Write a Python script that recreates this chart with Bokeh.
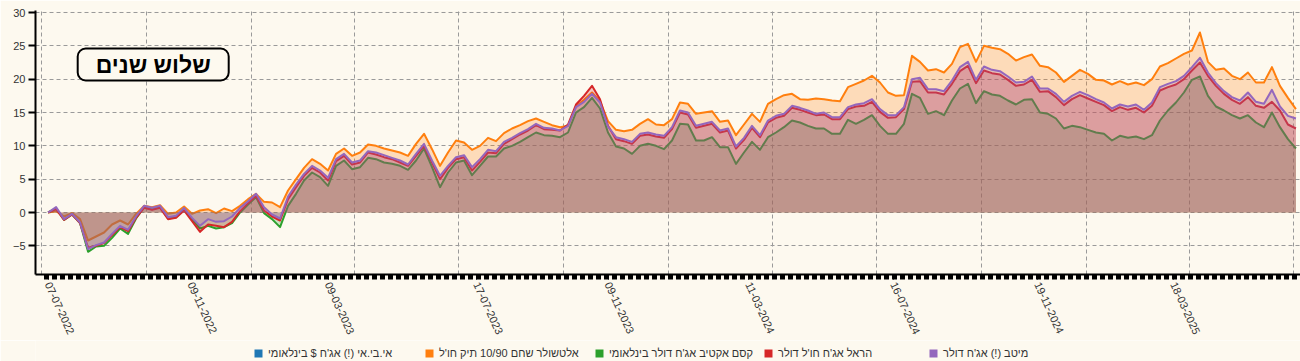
import pandas as pd
from bokeh.plotting import figure
from bokeh.layouts import column
from bokeh.models import (FixedTicker, DatetimeTickFormatter, Legend, LegendItem, Label)
from bokeh.embed import file_html
from bokeh.resources import INLINE

# ---------------- data ----------------
series_names = [
    "אי.בי.אי (!) אג'ח $ בינלאומי",
    "אלטשולר שחם 10/90 תיק חו'ל",
    "קסם אקטיב אג'ח דולר בינלאומי",
    "הראל אג'ח חו'ל דולר",
    "מיטב (!) אג'ח דולר",
]
series_colors = ["#1f77b4", "#ff7f0e", "#2ca02c", "#d62728", "#9467bd"]

dates = pd.date_range("2022-07-07", periods=157, freq="7D")

orange_vals = [
    0, 0.2, -0.6, -0.1, -1.0, -4.2, -3.6, -3.0, -1.8, -1.2,
    -1.8, -0.2, 1.0, 0.8, 1.1, -0.2, 0.0, 0.9, -0.2, 0.3,
    0.5, -0.1, 0.6, 0.2, 1.0, 2.0, 2.8, 1.6, 1.5, 0.8,
    3.3, 5.0, 6.7, 8.0, 7.3, 6.3, 8.8, 9.6, 8.5, 9.0,
    10.2, 10.0, 9.6, 9.3, 9.0, 8.5, 10.3, 11.8, 9.5, 7.0,
    9.0, 10.8, 10.5, 9.4, 10.0, 11.2, 10.7, 11.9, 12.6, 13.1,
    13.7, 14.1, 13.6, 13.1, 12.8, 13.0, 15.9, 16.9, 18.0, 16.7,
    13.7, 12.4, 12.2, 12.4, 13.3, 14.0, 13.2, 13.1, 14.0, 16.5,
    16.3, 14.8, 15.0, 15.2, 13.6, 13.8, 11.6, 13.2, 14.8, 13.6,
    16.3, 17.0, 17.6, 17.8, 17.0, 16.9, 17.1, 17.0, 16.8, 16.7,
    18.8, 19.3, 19.8, 20.5, 19.5, 18.0, 17.5, 17.6, 23.5, 22.6,
    21.3, 21.5, 21.0, 22.3, 24.8, 25.3, 22.6, 25.0, 24.7, 24.5,
    23.8, 22.8, 23.3, 23.7, 22.0, 21.8, 21.0, 19.6, 20.5, 21.4,
    20.8, 19.9, 19.8, 19.2, 19.7, 19.2, 19.5, 19.1, 20.0, 21.9,
    22.4, 23.1, 23.8, 24.3, 27.0, 22.6, 21.4, 21.6, 20.5, 20.0,
    21.0, 19.5, 19.5, 21.8, 19.0, 17.2, 15.5,
]

green_vals = [
    0, 0.6, -1.1, -0.3, -1.6, -5.9, -5.1, -5.0, -3.8, -2.4,
    -3.2, -0.9, 0.8, 0.5, 0.8, -0.9, -0.7, 0.4, -1.0, -2.4,
    -2.0, -2.4, -2.2, -1.6, 0.0, 1.2, 2.3, -0.1, -1.0, -2.2,
    1.0, 2.8, 4.8, 6.0, 5.3, 4.0, 7.0, 7.8, 6.5, 6.8,
    8.2, 8.0, 7.5, 7.3, 7.0, 6.4, 7.8, 9.6, 6.8, 3.8,
    6.0, 7.5, 7.8, 5.6, 7.0, 8.4, 8.4, 9.6, 10.0, 10.6,
    11.3, 12.0, 11.6, 11.5, 11.3, 12.0, 15.0, 15.8, 17.2, 15.6,
    12.0, 9.9, 9.6, 8.8, 10.0, 10.3, 10.0, 9.5, 10.8, 13.3,
    13.2, 10.8, 10.8, 11.3, 9.8, 9.8, 7.3, 9.0, 10.6, 9.4,
    11.3, 12.0, 12.8, 13.8, 13.5, 13.0, 12.6, 12.6, 11.8, 11.8,
    13.9, 13.3, 13.9, 14.6, 13.0, 11.8, 11.8, 13.3, 17.8, 17.2,
    14.8, 15.2, 14.6, 16.8, 18.6, 19.3, 16.4, 18.2, 17.7, 17.5,
    16.8, 16.2, 16.9, 17.0, 15.0, 14.8, 14.1, 12.6, 13.0, 12.8,
    12.4, 12.0, 11.8, 10.8, 11.5, 11.2, 11.4, 11.0, 11.6, 13.8,
    15.3, 16.5, 18.0, 19.9, 20.4, 17.5, 15.9, 15.3, 14.6, 14.1,
    14.6, 13.5, 12.8, 15.0, 12.8, 11.0, 9.6,
]

red_vals = [
    0, 0.5, -1.1, -0.3, -1.6, -5.3, -5.0, -4.6, -3.4, -2.2,
    -2.8, -0.8, 0.7, 0.4, 0.7, -1.0, -0.8, 0.3, -1.3, -2.9,
    -1.8, -2.0, -2.2, -1.4, 0.2, 1.4, 2.5, 0.3, -0.6, -1.2,
    2.0, 3.8, 5.5, 6.7, 6.0, 4.8, 7.7, 8.5, 7.2, 7.5,
    9.0, 8.7, 8.3, 8.0, 7.5, 7.0, 8.5, 10.0, 7.5, 5.0,
    6.7, 8.0, 8.3, 6.3, 7.6, 9.0, 8.9, 10.3, 11.0, 11.7,
    12.3, 13.1, 12.5, 12.4, 12.3, 13.2, 16.2, 17.5, 19.0, 17.0,
    13.0, 11.0, 10.7, 10.3, 11.5, 11.7, 11.4, 11.2, 12.5, 15.0,
    14.7, 12.7, 13.0, 13.3, 12.0, 12.3, 9.6, 10.9, 12.7, 11.3,
    13.5, 14.2, 14.5, 15.7, 15.4, 15.0, 14.6, 14.7, 14.0, 14.0,
    15.5, 15.9, 16.0, 16.6, 15.1, 14.2, 14.3, 15.5, 19.6, 19.7,
    18.0, 18.0, 17.7, 19.3, 21.2, 22.0, 19.4, 21.3, 20.9, 20.7,
    19.9, 19.0, 19.2, 19.9, 18.1, 18.2, 17.3, 16.1, 17.0, 17.6,
    17.1, 16.6, 16.1, 15.2, 15.8, 15.4, 15.7, 15.0, 16.0, 18.3,
    18.8, 19.2, 20.0, 21.3, 22.5, 20.5, 19.0, 17.8, 16.9, 16.3,
    17.3, 16.0, 15.7, 16.6, 15.3, 13.2, 12.6,
]

purple_vals = [
    0, 0.8, -1.0, -0.2, -1.5, -5.5, -4.9, -4.5, -3.2, -2.0,
    -2.6, -0.6, 1.0, 0.7, 1.0, -0.7, -0.5, 0.7, -0.8, -2.0,
    -1.0, -1.4, -1.3, -0.6, 0.7, 1.7, 2.8, 0.8, -0.3, -0.9,
    2.4, 4.2, 5.8, 7.0, 6.3, 5.2, 8.0, 8.8, 7.5, 7.8,
    9.2, 9.0, 8.6, 8.2, 7.8, 7.2, 8.8, 10.3, 7.8, 5.5,
    7.0, 8.3, 8.6, 6.8, 8.0, 9.4, 9.2, 10.6, 11.2, 11.9,
    12.5, 13.3, 12.7, 12.6, 12.3, 13.0, 15.8, 16.6, 17.8, 16.5,
    12.9, 11.3, 11.0, 10.6, 11.8, 12.0, 11.7, 11.5, 12.8, 15.3,
    15.0, 13.0, 13.3, 13.6, 12.3, 12.6, 9.9, 11.2, 13.0, 11.6,
    13.8, 14.5, 14.8, 16.0, 15.7, 15.3, 14.8, 15.0, 14.3, 14.3,
    15.8, 16.2, 16.4, 17.0, 15.5, 14.6, 14.6, 15.8, 20.0, 20.2,
    18.5, 18.5, 18.2, 19.8, 21.8, 22.6, 19.9, 21.9, 21.4, 21.2,
    20.4, 19.5, 19.6, 20.4, 18.6, 18.6, 17.8, 16.6, 17.5, 18.1,
    17.6, 17.0, 16.5, 15.6, 16.2, 15.9, 16.2, 15.4, 16.5, 18.8,
    19.3, 19.7, 20.5, 21.8, 23.2, 21.0, 19.4, 18.2, 17.3, 16.8,
    18.0, 16.6, 16.3, 18.4, 15.9, 14.5, 14.1,
]

label_dates = ["2022-07-07", "2022-11-09", "2023-03-09", "2023-07-17", "2023-11-09",
               "2024-03-11", "2024-07-16", "2024-11-19", "2025-03-18"]
y_ticks = [-5, 0, 5, 10, 15, 20, 25, 30]
title_text = "שלוש שנים"

# ---------------- figure ----------------
BG = "#fdf9ef"
FONT = "Liberation Sans"
NAN = float("nan")


def ms(d):
    return pd.Timestamp(d).value / 1e6


p = figure(width=1300, height=340, x_axis_type="datetime",
           x_range=(ms("2022-06-26"), ms("2025-07-07")), y_range=(-9.3, 30.3),
           output_backend="svg", toolbar_location=None, title=None,
           background_fill_color=BG, border_fill_color=BG,
           min_border_left=35, min_border_right=0, min_border_top=10, min_border_bottom=66)
p.outline_line_color = None

# grids
quarter_ticks = [ms(d) for d in pd.date_range("2022-07-01", "2025-07-01", freq="QS")]
p.xgrid.ticker = FixedTicker(ticks=quarter_ticks)
p.ygrid.ticker = FixedTicker(ticks=y_ticks)
for g in (p.xgrid, p.ygrid):
    g.grid_line_color = "#9a9a9a"
    g.grid_line_dash = "4 3"
    g.grid_line_width = 1

# x axis
week_ticks = [ms(d) for d in pd.date_range("2022-07-06", "2025-07-03", freq="7D")]
xa = p.xaxis[0]
xa.ticker = FixedTicker(ticks=[ms(d) for d in label_dates], minor_ticks=week_ticks)
fmt = "%d-%m-%Y"
xa.formatter = DatetimeTickFormatter(days=fmt, months=fmt, years=fmt, hours=fmt,
                                     minutes=fmt, seconds=fmt, milliseconds=fmt,
                                     minsec=fmt, hourmin=fmt)
xa.major_label_orientation = -1.14
xa.major_label_text_font = FONT
xa.major_label_text_font_size = "11px"
xa.major_label_text_color = "#333333"
xa.major_label_standoff = 3
xa.axis_line_color = "black"
xa.axis_line_width = 2
xa.major_tick_in = 0
xa.major_tick_out = 5
xa.major_tick_line_width = 1
xa.major_tick_line_color = "black"
xa.minor_tick_in = 0
xa.minor_tick_out = 5
xa.minor_tick_line_width = 5
xa.minor_tick_line_color = "black"

# y axis
ya = p.yaxis[0]
ya.ticker = FixedTicker(ticks=y_ticks)
ya.major_label_text_font = FONT
ya.major_label_text_font_size = "11px"
ya.major_label_text_color = "#333333"
ya.major_label_standoff = 3
ya.axis_line_color = "black"
ya.axis_line_width = 2
ya.major_tick_in = 0
ya.major_tick_out = 7
ya.major_tick_line_width = 2
ya.minor_tick_line_color = None

# series: fill + line, drawn in order
plot_series = [
    (orange_vals, series_colors[1]),
    (green_vals, series_colors[2]),
    (red_vals, series_colors[3]),
    (purple_vals, series_colors[4]),
]
for vals, color in plot_series:
    p.varea(x=list(dates), y1=[0] * len(vals), y2=vals, fill_color=color, fill_alpha=0.24)
    p.line(x=list(dates), y=vals, line_color=color, line_width=2, line_join="round")

# boxed title
title = Label(x=ms("2022-10-07"), y=22.2, text=title_text,
              text_align="center", text_baseline="middle",
              text_font=FONT, text_font_size="23px", text_font_style="bold",
              text_color="black",
              border_line_color="black", border_line_width=2, border_radius=8,
              background_fill_color=BG,
              padding=dict(left=18, right=18, top=3, bottom=3))
p.add_layout(title)

# ---------------- legend strip (one fixed-width slot per series) ----------------
pl = figure(width=1300, height=21, output_backend="svg", toolbar_location=None, title=None,
            background_fill_color=BG, border_fill_color=BG,
            x_axis_location=None, y_axis_location=None,
            min_border_left=0, min_border_right=0, min_border_top=0, min_border_bottom=0)
pl.outline_line_color = None
pl.grid.visible = False
slot_left = [218, 389, 559, 728, 893]
for name, color, sx in zip(series_names, series_colors, slot_left):
    r = pl.quad(left=[NAN], right=[NAN], top=[NAN], bottom=[NAN], fill_color=color, line_color=None)
    lg = Legend(items=[LegendItem(label=name, renderers=[r])], orientation="horizontal",
                location=(sx, 2), glyph_width=10, glyph_height=10, label_standoff=5,
                margin=0, padding=3, border_line_color=None, background_fill_alpha=0,
                label_text_font=FONT, label_text_font_size="11px",
                label_text_color="#333333")
    pl.add_layout(lg, "center")

layout = column(p, pl, spacing=0)
open("out.html", "w").write(file_html(layout, INLINE))
